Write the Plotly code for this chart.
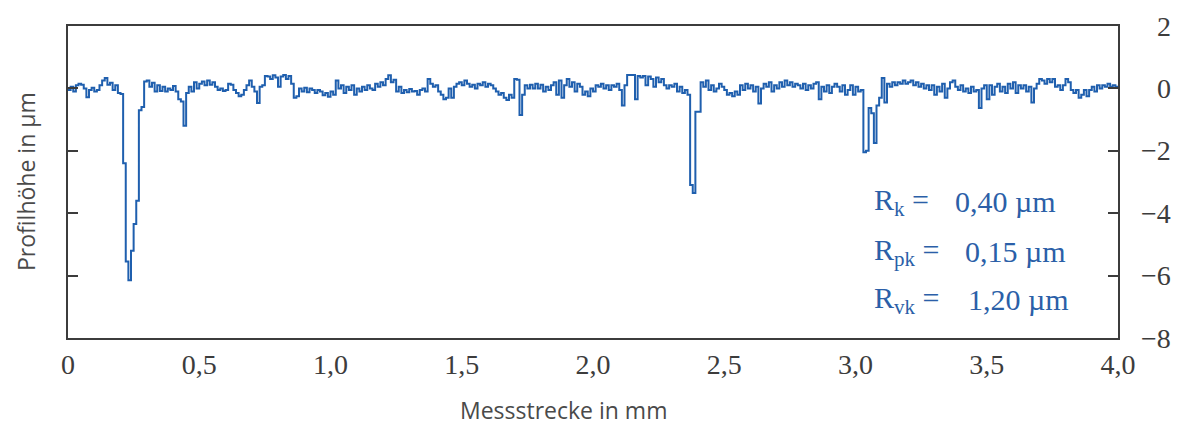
import plotly.graph_objects as go

# Surface roughness profile, sampled every 0.01 mm (heights in µm)
step_mm = 0.01
profile_um = [
    -0.05, 0.05, -0.1, 0.1, 0.15, 0.12, 0.0, -0.28, -0.05, 0.02,
    -0.1, -0.05, 0.1, 0.25, 0.33, 0.12, 0.18, -0.05, 0.1, -0.15,
    -0.18, -2.4, -5.55, -6.15, -5.2, -4.35, -3.6, -0.7, -0.6, 0.22,
    0.25, 0.05, 0.18, -0.1, 0.1, -0.08, 0.05, -0.1, 0.0, -0.05,
    0.08, -0.1, -0.35, -0.42, -1.2, -0.15, 0.05, -0.1, 0.2, 0.0,
    0.15, 0.22, 0.1, 0.25, 0.12, 0.2, 0.05, -0.05, 0.0, -0.08,
    -0.05, 0.15, 0.12, -0.05, -0.15, -0.25, -0.2, -0.05, 0.1, 0.25,
    0.05, -0.1, -0.47, 0.05, 0.1, 0.4, 0.38, 0.3, 0.42, 0.35,
    0.05, 0.38, 0.43, 0.3, 0.4, 0.15, -0.3, -0.25, 0.0, -0.1,
    0.02, -0.12, 0.0, -0.05, -0.15, -0.05, -0.1, -0.22, -0.15, -0.27,
    -0.1, -0.2, 0.25, 0.0, 0.1, -0.15, 0.05, -0.05, 0.1, -0.2,
    0.0, -0.1, 0.05, -0.05, 0.1, 0.0, -0.05, 0.15, 0.05, 0.2,
    0.1, 0.3, 0.42, 0.2, 0.28, -0.1, 0.05, -0.15, -0.05, -0.12,
    -0.02, -0.1, -0.08, -0.2, -0.05, 0.0, -0.1, 0.3, 0.15, 0.05,
    0.1, -0.1, -0.2, -0.35, -0.3, 0.0, -0.3, 0.05, 0.15, 0.2,
    0.1, 0.25, 0.15, 0.05, 0.12, 0.0, 0.15, 0.1, 0.2, 0.05,
    0.15, 0.1, 0.0, -0.1, -0.2, -0.15, -0.3, -0.37, -0.2, -0.3,
    0.3, 0.28, -0.85, -0.2, 0.1, 0.0, 0.12, 0.0, 0.15, 0.0,
    0.12, -0.1, 0.05, -0.05, 0.1, 0.2, -0.2, 0.25, -0.3, 0.1,
    0.3, 0.05, 0.2, -0.1, 0.15, 0.05, -0.2, -0.1, -0.25, 0.0,
    -0.1, 0.1, 0.05, 0.15, 0.0, 0.1, -0.05, 0.1, 0.05, 0.15,
    -0.05, -0.55, 0.1, 0.43, 0.43, 0.43, -0.35, 0.4, 0.35, 0.4,
    0.1, 0.38, 0.3, 0.05, 0.35, 0.2, 0.3, 0.1, 0.0, 0.1,
    0.05, 0.15, -0.1, 0.05, -0.15, -0.05, -0.2, -3.1, -3.35, -0.75,
    -0.75, 0.2, 0.05, 0.25, -0.05, 0.1, -0.1, 0.0, 0.15, 0.05,
    -0.05, -0.2, -0.15, -0.25, -0.1, -0.2, 0.1, -0.05, 0.15, 0.0,
    0.1, -0.1, 0.05, -0.48, 0.0, 0.15, 0.05, 0.2, -0.1, 0.1,
    0.0, 0.2, 0.05, 0.25, 0.1, 0.2, 0.05, 0.15, 0.1, 0.0,
    0.15, -0.05, 0.1, 0.0, 0.15, 0.2, -0.35, 0.05, -0.1, 0.1,
    -0.15, 0.05, 0.15, 0.05, -0.1, 0.1, -0.2, -0.05, 0.1, -0.2,
    0.05, -0.1, -0.05, -2.05, -2.0, -0.63, -0.8, -1.75, -0.55, -0.3,
    0.33, -0.45, 0.15, 0.05, 0.2, 0.1, 0.2, 0.15, 0.25, 0.15,
    0.2, 0.25, 0.1, 0.2, 0.05, 0.15, 0.0, 0.1, -0.05, 0.1,
    -0.2, 0.05, -0.1, 0.15, -0.3, 0.0, 0.2, 0.25, 0.05, -0.05,
    0.1, -0.1, 0.0, -0.15, 0.05, -0.1, -0.05, -0.63, 0.0, 0.1,
    -0.35, 0.1, -0.2, 0.05, 0.15, -0.1, 0.05, -0.15, 0.15, 0.0,
    0.2, -0.15, 0.1, 0.0, 0.1, -0.1, 0.05, -0.45, 0.0, 0.15,
    0.3, 0.25, 0.15, 0.3, 0.2, 0.3, 0.05, 0.1, -0.05, 0.1,
    0.3, 0.2, -0.05, -0.15, -0.05, -0.3, -0.2, -0.05, -0.25, -0.05,
    0.05, -0.1, 0.1, 0.0, 0.1, 0.05, 0.15, 0.05, 0.1, 0.05,
]
x_end_mm = 4.0

x_ticks = [0, 0.5, 1.0, 1.5, 2.0, 2.5, 3.0, 3.5, 4.0]
x_tick_labels = ["0", "0,5", "1,0", "1,5", "2,0", "2,5", "3,0", "3,5", "4,0"]
y_ticks = [2, 0, -2, -4, -6, -8]
y_tick_labels = ["2", "0", "\u22122", "\u22124", "\u22126", "\u22128"]

param_names = ["R<sub>k</sub> =", "R<sub>pk</sub> =", "R<sub>vk</sub> ="]
param_values = ["0,40 µm", "0,15 µm", "1,20 µm"]

x_mm = [i * step_mm for i in range(len(profile_um))] + [x_end_mm]
y_um = profile_um + [profile_um[-1]]

axis_grey = "#3c3c3c"
title_grey = "#4a4a4a"
line_blue = "#1f5fae"
text_blue = "#2b5fa8"
serif = "Liberation Serif"
sans = "Open Sans"

fig = go.Figure()
fig.add_trace(go.Scatter(
    x=x_mm, y=y_um, mode="lines", line=dict(color=line_blue, width=2, shape="hv"),
    hoverinfo="skip", showlegend=False,
))

fig.update_layout(
    width=1178, height=427,
    margin=dict(l=68, r=60, t=26, b=89),
    paper_bgcolor="white", plot_bgcolor="white",
    xaxis=dict(
        range=[0, 4.0], tickvals=x_ticks, ticktext=x_tick_labels,
        showgrid=False, zeroline=False, showline=True, mirror=True,
        linecolor=axis_grey, linewidth=1.8, ticks="",
        tickfont=dict(family=serif, size=28, color=axis_grey),
    ),
    yaxis=dict(
        range=[-8, 2], tickvals=y_ticks, side="right",
        showgrid=False, zeroline=False, showline=True, mirror="ticks",
        linecolor=axis_grey, linewidth=1.8, ticks="inside", ticklen=10,
        tickcolor=axis_grey, tickwidth=1.5, showticklabels=False,
    ),
)

# right-aligned y tick labels
for v, lab in zip(y_ticks, y_tick_labels):
    fig.add_annotation(
        x=1, xref="paper", y=v, yref="y", xshift=55, xanchor="right", yanchor="middle",
        text=lab, showarrow=False, font=dict(family=serif, size=28, color=axis_grey),
    )

# axis titles
fig.add_annotation(
    x=(563 - 68) / 1050, xref="paper", y=-0.23, yref="paper", yanchor="middle",
    text="Messstrecke in mm", showarrow=False,
    font=dict(family=sans, size=23, color=title_grey),
)
fig.add_annotation(
    x=(26 - 68) / 1050, xref="paper", y=0.5, yref="paper", textangle=-90,
    xanchor="center", yanchor="middle",
    text="Profilhöhe in µm", showarrow=False,
    font=dict(family=sans, size=23, color=title_grey),
)

# roughness parameters
rows_y = [-3.63, -5.23, -6.77]
value_x = [3.37, 3.41, 3.42]
for name, val, yy, vx in zip(param_names, param_values, rows_y, value_x):
    fig.add_annotation(
        x=3.063, xref="x", y=yy, yref="y", xanchor="left", yanchor="middle",
        text=name, showarrow=False, font=dict(family=serif, size=30, color=text_blue),
    )
    fig.add_annotation(
        x=vx, xref="x", y=yy, yref="y", xanchor="left", yanchor="middle",
        text=val, showarrow=False, font=dict(family=serif, size=30, color=text_blue),
    )

fig.write_html("out.html")
